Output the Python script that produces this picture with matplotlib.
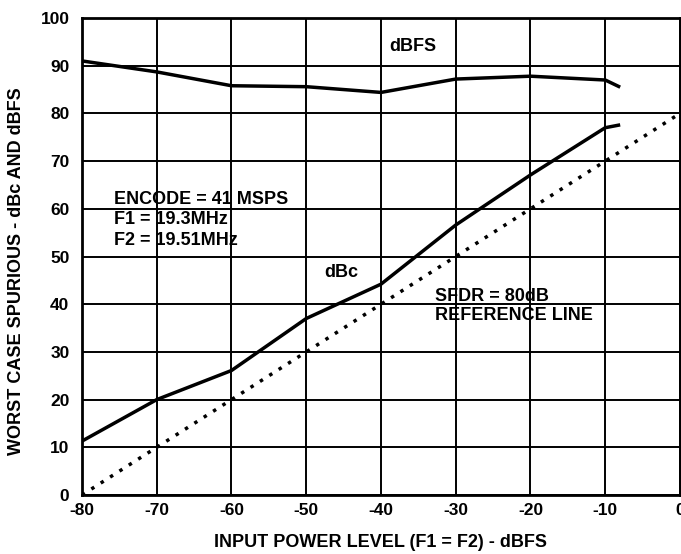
import matplotlib
matplotlib.use("Agg")
import matplotlib.pyplot as plt
import numpy as np

plt.rcParams['font.family'] = ['Liberation Sans', 'DejaVu Sans']
plt.rcParams['font.weight'] = 'bold'

# Data
dbfs_x = [-80, -70, -60, -50, -40, -30, -20, -10, -8]
dbfs_y = [91.0, 88.7, 85.8, 85.6, 84.4, 87.2, 87.8, 87.0, 85.5]

dbc_x = [-80, -70, -60, -50, -40, -30, -20, -10, -8]
dbc_y = [11.3, 20.0, 26.1, 37.0, 44.2, 56.6, 67.1, 77.0, 77.6]

ref_x = [-80, 0]
ref_y = [0, 80]

xticks = [-80, -70, -60, -50, -40, -30, -20, -10, 0]
yticks = [0, 10, 20, 30, 40, 50, 60, 70, 80, 90, 100]

fig = plt.figure(figsize=(6.81, 5.54), dpi=100)
ax = fig.add_axes([0.1204, 0.1065, 0.8781, 0.861])

ax.set_xlim(-80, 0)
ax.set_ylim(0, 100)
ax.set_xticks(xticks)
ax.set_yticks(yticks)
ax.set_xticklabels([str(v) for v in xticks], fontsize=12.5, fontweight='bold')
ax.set_yticklabels([str(v) for v in yticks], fontsize=12.5, fontweight='bold')
ax.tick_params(axis='x', length=0, pad=6)
ax.tick_params(axis='y', length=0, pad=9)
ax.grid(True, color='black', linewidth=1.4)
ax.set_axisbelow(True)
for s in ax.spines.values():
    s.set_linewidth(2)

ax.plot(dbfs_x, dbfs_y, color='black', linewidth=2.5, solid_capstyle='butt')
ax.plot(dbc_x, dbc_y, color='black', linewidth=2.5, solid_capstyle='butt')
ax.plot(ref_x, ref_y, color='black', linewidth=2.5, linestyle=(0, (1.0, 2.2)))

ax.set_xlabel('INPUT POWER LEVEL (F1 = F2) - dBFS', fontsize=13, fontweight='bold', labelpad=11)
ax.set_ylabel('WORST CASE SPURIOUS - dBc AND dBFS', fontsize=13, fontweight='bold')
ax.yaxis.set_label_coords(-0.095, 0.47)

tk = dict(fontsize=13, fontweight='bold', color='black')
ax.text(-35.7, 94.0, 'dBFS', ha='center', va='center', **tk)
ax.text(-75.7, 62.0, 'ENCODE = 41 MSPS', ha='left', va='center', **tk)
ax.text(-75.7, 57.8, 'F1 = 19.3MHz', ha='left', va='center', **tk)
ax.text(-75.7, 53.4, 'F2 = 19.51MHz', ha='left', va='center', **tk)
ax.text(-45.3, 46.7, 'dBc', ha='center', va='center', **tk)
ax.text(-32.8, 41.7, 'SFDR = 80dB', ha='left', va='center', **tk)
ax.text(-32.8, 37.6, 'REFERENCE LINE', ha='left', va='center', **tk)

fig.savefig('out.png', dpi=100)
